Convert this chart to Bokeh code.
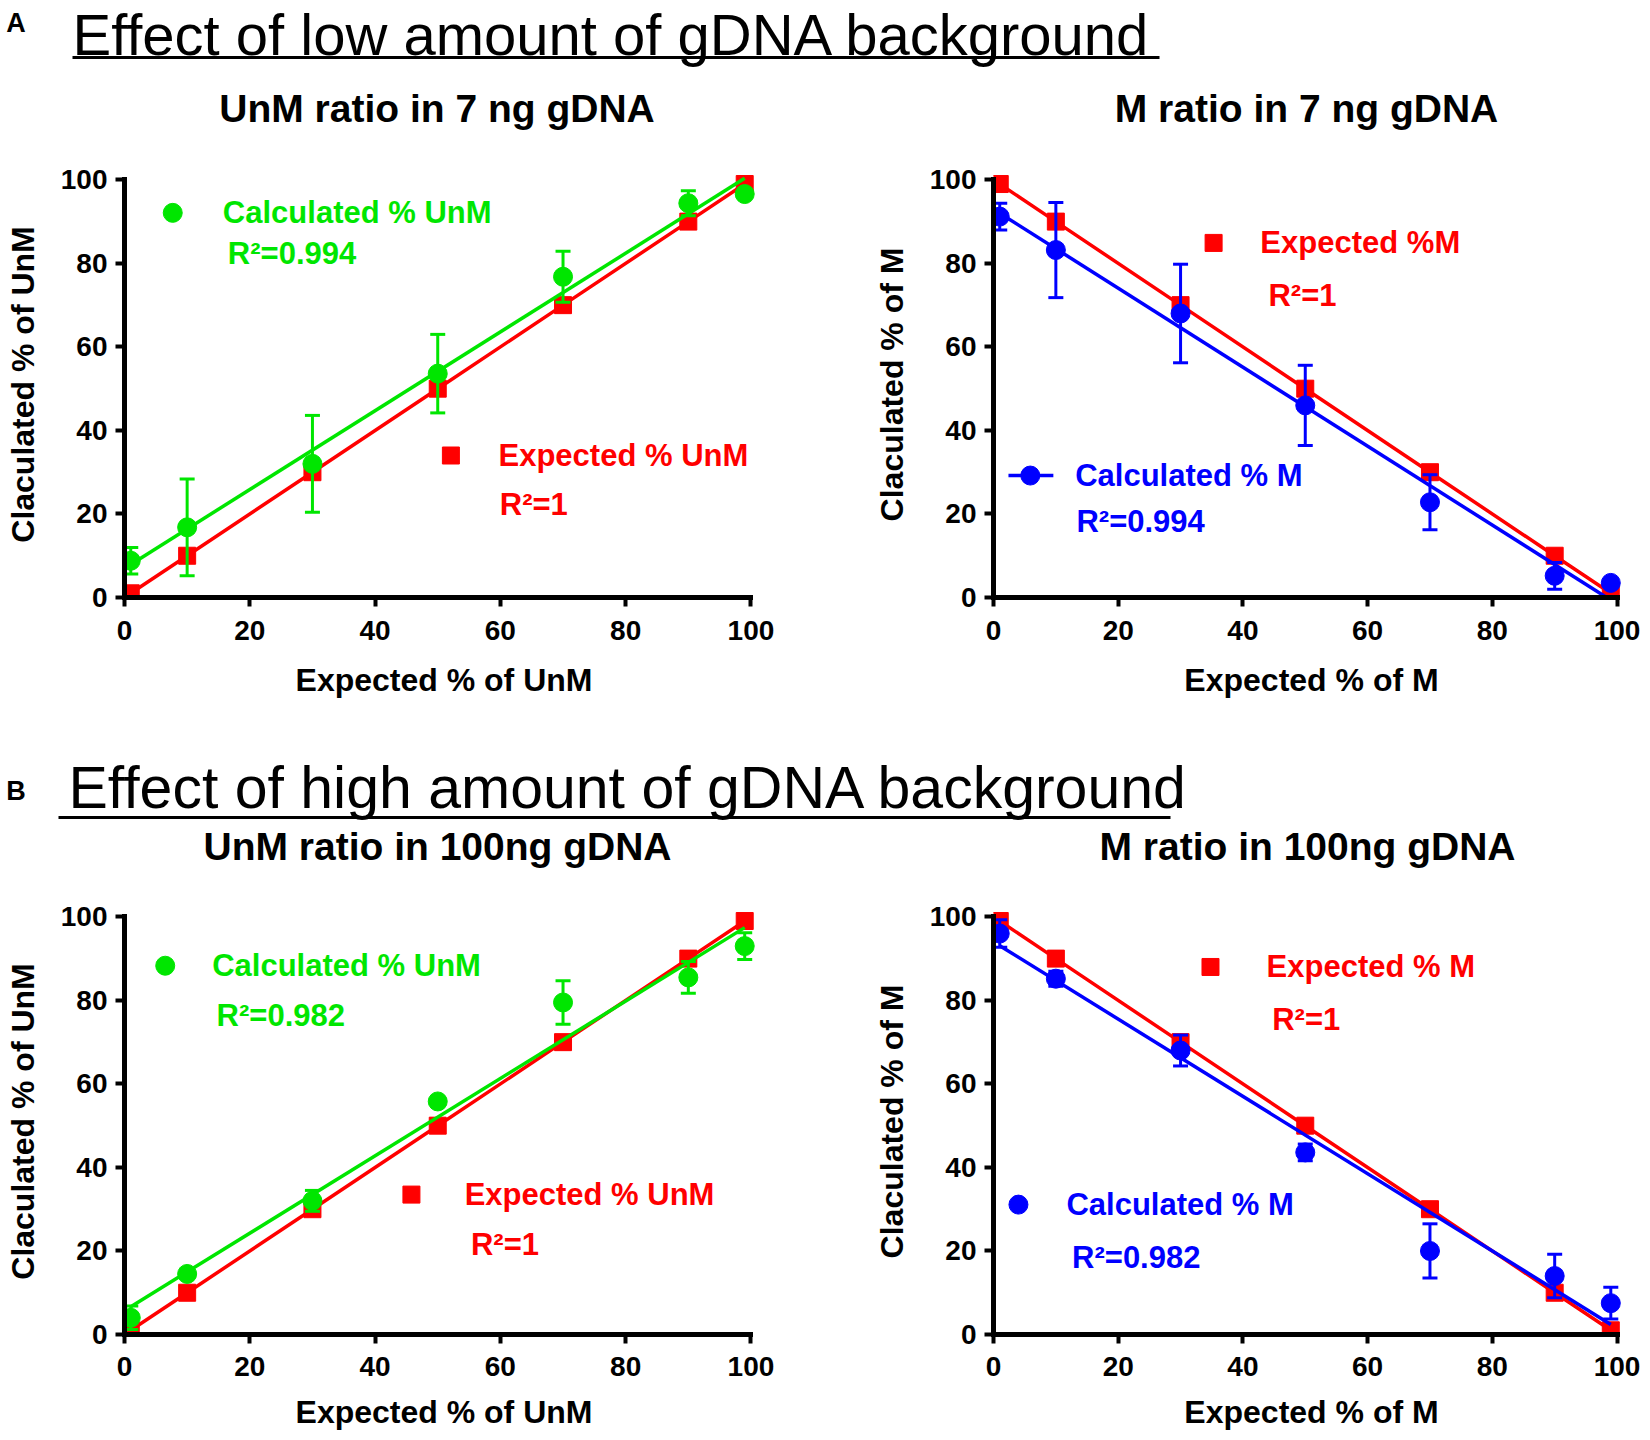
import numpy as np
from bokeh.plotting import figure
from bokeh.layouts import column, row
from bokeh.models import Range1d, LinearAxis, FixedTicker
from bokeh.core.properties import value
from bokeh.embed import file_html
from bokeh.resources import INLINE

# ---------------- data ----------------
expected_pct = [1, 10, 30, 50, 70, 90, 99]
unm_expected = [1, 10, 30, 50, 70, 90, 99]
m_expected = [99, 90, 70, 50, 30, 10, 1]
axis_ticks = [0, 20, 40, 60, 80, 100]

# A: 7 ng gDNA background
unm7_calc = [8.8, 16.8, 32.0, 53.6, 76.8, 94.4, 96.6]
unm7_err = [3.2, 11.6, 11.6, 9.4, 6.1, 3.0, 0.0]
m7_calc = [91.2, 83.2, 68.0, 46.0, 22.8, 5.2, 3.5]
m7_err = [3.2, 11.4, 11.8, 9.6, 6.6, 3.2, 0.0]

# B: 100 ng gDNA background
unm100_calc = [4.0, 14.5, 32.0, 55.8, 79.5, 85.5, 93.0]
unm100_err = [2.8, 0.0, 2.5, 0.0, 5.2, 3.8, 3.2]
m100_calc = [96.0, 85.2, 68.0, 43.6, 20.0, 14.0, 7.5]
m100_err = [3.3, 1.8, 3.7, 2.0, 6.5, 5.2, 3.8]

r2_unm7, r2_m7, r2_unm100, r2_m100 = "0.994", "0.994", "0.982", "0.982"

# ---------------- style ----------------
RED = "#ff0000"
GREEN = "#00e600"
BLUE = "#0000ff"
SANS = "Liberation Sans"
TITLE_FONT = "Liberation Sans"
PAGE_W = 1642


def style_axis(ax, label, tick_standoff, label_standoff):
    ax.ticker = FixedTicker(ticks=axis_ticks, minor_ticks=[])
    ax.bounds = (0, 100)
    ax.axis_label = label
    ax.axis_line_width = 5
    ax.axis_line_color = "black"
    ax.axis_line_cap = "square"
    ax.major_tick_line_width = 4
    ax.major_tick_line_color = "black"
    ax.major_tick_out = 9
    ax.major_tick_in = 0
    ax.minor_tick_out = 0
    ax.minor_tick_in = 0
    ax.major_label_text_font = SANS
    ax.major_label_text_font_style = "bold"
    ax.major_label_text_font_size = "28px"
    ax.major_label_text_color = "black"
    ax.major_label_standoff = tick_standoff
    ax.axis_label_text_font = SANS
    ax.axis_label_text_font_style = "bold"
    ax.axis_label_text_font_size = "32px"
    ax.axis_label_text_color = "black"
    ax.axis_label_standoff = label_standoff


def add_text(p, x, y, txt, color, size="31px"):
    p.text(x=[x], y=[y], text=[txt], text_font=value(SANS), text_font_style="bold",
           text_font_size=value(size), text_color=color, text_align="left",
           text_baseline="middle")


def make_panel(width, height, borders, xstand, xlabel, ylabel, exp_y, calc_y, calc_err,
               color, legend):
    bl, br, bt, bb = borders
    p = figure(width=width, height=height, x_range=Range1d(0, 102), y_range=Range1d(0, 102),
               x_axis_location=None, y_axis_location=None, toolbar_location=None,
               output_backend="svg", min_border_left=bl, min_border_right=br,
               min_border_top=bt, min_border_bottom=bb)
    p.grid.visible = False
    p.outline_line_color = None
    p.background_fill_color = "white"
    p.border_fill_color = "white"

    xa = LinearAxis()
    style_axis(xa, xlabel, xstand[0], xstand[1])
    p.add_layout(xa, "below")
    ya = LinearAxis()
    style_axis(ya, ylabel, 8, 17)
    p.add_layout(ya, "left")

    x = expected_pct
    # expected series
    p.line(x, exp_y, line_color=RED, line_width=3.5)
    p.scatter(x, exp_y, marker="square", size=17, fill_color=RED, line_color=RED)
    # linear fit of calculated series
    slope, icpt = np.polyfit(x, calc_y, 1)
    fx = [x[0], x[-1]]
    p.line(fx, [slope * v + icpt for v in fx], line_color=color, line_width=3.5)
    # error bars
    idx = [i for i, e in enumerate(calc_err) if e > 0]
    ex = [x[i] for i in idx]
    lo = [calc_y[i] - calc_err[i] for i in idx]
    hi = [calc_y[i] + calc_err[i] for i in idx]
    p.segment(ex, lo, ex, hi, line_color=color, line_width=3)
    p.scatter(ex + ex, lo + hi, marker="dash", size=15, line_color=color, line_width=3)
    p.scatter(x, calc_y, marker="circle", size=19, fill_color=color, line_color=color)

    # legend blocks
    for item in legend:
        if item["marker"] == "square":
            p.scatter([item["mx"]], [item["my"]], marker="square", size=17,
                      fill_color=item["color"], line_color=item["color"])
        else:
            if item.get("line"):
                p.line(item["line"], [item["my"], item["my"]], line_color=item["color"],
                       line_width=3.5)
            p.scatter([item["mx"]], [item["my"]], marker="circle", size=19,
                      fill_color=item["color"], line_color=item["color"])
        add_text(p, item["tx"], item["my"], item["label"], item["color"])
        add_text(p, item["rx"], item["ry"], item["r2"], item["color"])
    return p


def make_header(height, letter, letter_xy, title, title_xy, title_size, uline, subs):
    h = figure(width=PAGE_W, height=height, x_range=Range1d(0, PAGE_W),
               y_range=Range1d(height, 0), x_axis_location=None, y_axis_location=None,
               toolbar_location=None, output_backend="svg", min_border=0)
    h.grid.visible = False
    h.outline_line_color = None
    h.text(x=[letter_xy[0]], y=[letter_xy[1]], text=[letter], text_font=value(SANS),
           text_font_style="bold", text_font_size=value("27px"), text_color="black",
           text_align="center", text_baseline="middle")
    h.text(x=[title_xy[0]], y=[title_xy[1]], text=[title], text_font=value(TITLE_FONT),
           text_font_size=value(title_size), text_color="black", text_align="left",
           text_baseline="middle")
    h.segment([uline[0]], [uline[2]], [uline[1]], [uline[2]], line_color="black", line_width=3)
    for (sx, sy, st) in subs:
        h.text(x=[sx], y=[sy], text=[st], text_font=value(SANS), text_font_style="bold",
               text_font_size=value("39px"), text_color="black", text_align="center",
               text_baseline="middle")
    return h


header_a = make_header(150, "A", (15.5, 22.5), "Effect of low amount of gDNA background",
                       (72, 33.5), "58px", (72, 1159, 57),
                       [(436.5, 108, "UnM ratio in 7 ng gDNA"),
                        (1306, 108, "M ratio in 7 ng gDNA")])

header_b = make_header(140, "B", (15.5, 50.5), "Effect of high amount of gDNA background",
                       (68, 47.5), "59px", (58, 1170, 77),
                       [(437, 106, "UnM ratio in 100ng gDNA"),
                        (1307, 106, "M ratio in 100ng gDNA")])

p_tl = make_panel(870, 590, (124, 107, 21, 143), (14, 19), "Expected % of UnM",
                  "Claculated % of UnM", unm_expected, unm7_calc, unm7_err, GREEN,
                  [dict(marker="circle", mx=7.7, my=92.1, tx=15.7, label="Calculated % UnM",
                        rx=16.5, ry=82.4, r2="R\u00b2=" + r2_unm7, color=GREEN),
                   dict(marker="square", mx=52.1, my=34.0, tx=59.7, label="Expected % UnM",
                        rx=59.9, ry=22.2, r2="R\u00b2=1", color=RED)])

p_tr = make_panel(772, 590, (120, 13, 21, 143), (14, 19), "Expected % of M",
                  "Claculated % of M", m_expected, m7_calc, m7_err, BLUE,
                  [dict(marker="square", mx=35.3, my=84.9, tx=42.8, label="Expected %M",
                        rx=44.1, ry=72.2, r2="R\u00b2=1", color=RED),
                   dict(marker="circle", mx=5.9, my=29.2, tx=13.1, label="Calculated % M",
                        rx=13.3, ry=18.2, r2="R\u00b2=" + r2_m7, color=BLUE,
                        line=[2.4, 9.6])])

p_bl = make_panel(870, 552, (124, 107, 28, 98), (13, 15), "Expected % of UnM",
                  "Claculated % of UnM", unm_expected, unm100_calc, unm100_err, GREEN,
                  [dict(marker="circle", mx=6.5, my=88.3, tx=14.0, label="Calculated % UnM",
                        rx=14.7, ry=76.3, r2="R\u00b2=" + r2_unm100, color=GREEN),
                   dict(marker="square", mx=45.8, my=33.5, tx=54.3, label="Expected % UnM",
                        rx=55.3, ry=21.5, r2="R\u00b2=1", color=RED)])

p_br = make_panel(772, 552, (120, 13, 28, 98), (13, 15), "Expected % of M",
                  "Claculated % of M", m_expected, m100_calc, m100_err, BLUE,
                  [dict(marker="square", mx=34.8, my=88.0, tx=43.8, label="Expected % M",
                        rx=44.7, ry=75.4, r2="R\u00b2=1", color=RED),
                   dict(marker="circle", mx=4.0, my=31.1, tx=11.7, label="Calculated % M",
                        rx=12.6, ry=18.4, r2="R\u00b2=" + r2_m100, color=BLUE)])

layout = column(header_a, row(p_tl, p_tr), header_b, row(p_bl, p_br))

open("out.html", "w").write(file_html(layout, INLINE))
